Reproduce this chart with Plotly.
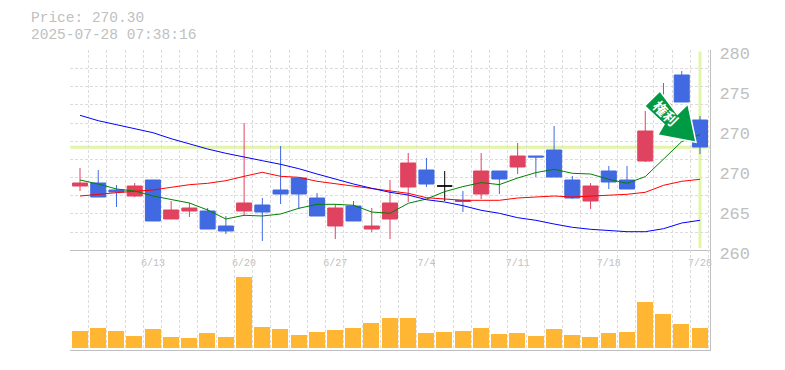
import plotly.graph_objects as go

x_index = list(range(35))
label_index = [4, 9, 14, 19, 24, 29, 34]
date_labels = ["6/13", "6/20", "6/27", "7/4", "7/11", "7/18", "7/28"]

open_ = [266.43,266.73,266.03,265.43,267.03,263.13,263.93,263.93,262.43,263.93,264.53,266.03,267.23,265.23,262.43,264.43,262.13,263.13,
         266.33,268.03,266.43,265.0,265.63,267.93,268.33,269.43,270.03,267.03,264.93,267.93,267.03,268.93,273.3,277.53,273.03]
high = [268.23,268.03,266.53,266.73,267.03,264.93,264.73,264.23,263.43,272.73,265.23,270.43,267.23,265.73,264.63,264.93,264.23,267.03,
        269.73,269.23,267.93,265.93,269.73,267.93,270.73,269.43,272.43,267.43,266.73,268.43,268.43,273.93,276.73,277.93,273.43]
low = [265.93,265.33,264.33,265.33,262.93,263.13,263.33,262.13,261.63,263.43,260.93,264.63,264.13,263.43,261.13,262.93,261.83,261.13,
       264.83,266.33,264.93,263.83,265.13,265.63,267.63,267.33,267.33,265.13,264.13,266.13,266.13,268.83,273.0,274.83,269.63]
close = [266.73,265.33,265.83,266.43,262.93,264.03,264.23,262.13,261.93,264.73,263.83,265.63,265.63,263.43,264.23,262.93,262.43,264.73,
         268.73,266.63,266.43,264.9,267.93,267.13,269.43,269.33,267.33,265.23,266.43,266.83,266.13,271.93,274.63,274.83,270.33]

ma_short = [267.03,266.63,266.13,265.93,265.43,265.1,264.73,264.03,263.13,263.5,263.43,263.63,264.2,264.6,264.6,264.5,263.83,263.7,
            264.7,265.13,265.87,266.37,266.77,266.57,267.23,267.77,268.1,267.7,267.63,267.1,266.7,267.37,269.1,270.87,271.57]
ma_mid = [265.43,265.63,265.76,265.9,266.03,266.3,266.56,266.7,266.96,267.4,267.8,267.4,267.3,266.9,266.66,266.46,266.2,265.96,
          265.7,265.26,265.13,265.0,265.0,265.0,265.23,265.36,265.43,265.33,265.4,265.5,265.6,265.8,266.5,266.9,267.1]
ma_long = [273.5,272.96,272.56,272.16,271.76,271.16,270.63,270.13,269.7,269.3,268.96,268.6,268.16,267.63,267.1,266.63,266.2,265.8,
           265.53,265.06,264.83,264.46,264.0,263.7,263.26,263.0,262.63,262.3,262.1,261.96,261.86,261.86,262.16,262.73,263.0]

volume = [17000,20000,17000,12000,19000,11000,10000,15000,11000,71000,21000,19000,13000,16000,18000,20000,25000,30000,
          30000,15000,16000,17000,20000,14000,15000,12000,19000,13000,11000,15000,16000,46000,34000,24000,20000]

last_price = 270.30
price_ticks = [260, 264, 268, 272, 276, 280]
price_ticktext = ["260", "265", "270", "270", "275", "280"]

UP = "#E0435F"; DOWN = "#4169E1"; HILITE = "#E2F5A9"; GREY = "#C0C0C0"; GRID = "#DCDCDC"; VOL = "#FFB733"
MONO = "Liberation Mono"

doji = [20]
rest = [i for i in x_index if i not in doji]

fig = go.Figure()
for name, ys, col in [("s", ma_short, "#008000"), ("m", ma_mid, "#FF0000"), ("l", ma_long, "#0000FF")]:
    fig.add_trace(go.Scatter(x=x_index, y=ys, mode="lines", line=dict(color=col, width=1), xaxis="x", yaxis="y", showlegend=False))

fig.add_trace(go.Candlestick(
    x=rest, open=[open_[i] for i in rest], high=[high[i] for i in rest], low=[low[i] for i in rest], close=[close[i] for i in rest],
    increasing=dict(line=dict(color=UP, width=1), fillcolor=UP),
    decreasing=dict(line=dict(color=DOWN, width=1), fillcolor=DOWN),
    whiskerwidth=0, xaxis="x", yaxis="y", showlegend=False))
fig.add_trace(go.Candlestick(
    x=doji, open=[open_[20]], high=[high[20]], low=[low[20]], close=[close[20]],
    increasing=dict(line=dict(color="#000000", width=1), fillcolor="#000000"),
    decreasing=dict(line=dict(color="#000000", width=1), fillcolor="#000000"),
    whiskerwidth=0, xaxis="x", yaxis="y", showlegend=False))
fig.add_trace(go.Bar(x=x_index, y=volume, width=0.877, marker=dict(color=VOL, line=dict(width=0)),
                     xaxis="x2", yaxis="y2", showlegend=False))

W, H = 785, 370
L, R, T, M, B = 70.3, 710, 50.3, 250.3, 350
xrange_ = [-0.532, 34.55]
def grid_x():
    return dict(showgrid=True, gridcolor=GRID, gridwidth=1, griddash="3px,2px", tick0=-0.532, dtick=1, ticklen=0)

fig.update_layout(
    width=W, height=H, autosize=False, margin=dict(l=0, r=0, t=0, b=0, pad=0, autoexpand=False),
    paper_bgcolor="white", plot_bgcolor="white", boxgap=0.175, boxgroupgap=0, bargap=0,
    hovermode=False, showlegend=False,
    xaxis=dict(domain=[L/W, R/W], range=xrange_, anchor="y", rangeslider=dict(visible=False),
               tickmode="array", tickvals=label_index, ticktext=date_labels, showgrid=False, zeroline=False,
               ticks="", ticklabelstandoff=3, tickfont=dict(family=MONO, size=10, color=GREY),
               showline=True, linecolor=GREY, linewidth=1, minor=grid_x()),
    xaxis2=dict(domain=[L/W, R/W], range=xrange_, anchor="y2", showticklabels=False, ticks="",
                tickmode="array", tickvals=[], showgrid=False, zeroline=False, showline=True, linecolor=GREY, linewidth=1,
                minor=grid_x()),
    yaxis=dict(domain=[1-M/H, 1-T/H], range=[260, 280], anchor="x", side="right", tickmode="array",
               tickvals=price_ticks, ticktext=price_ticktext, showgrid=False, zeroline=False, ticks="",
               ticklabelshift=3, ticklabelstandoff=5, tickfont=dict(family=MONO, size=17, color=GREY),
               showline=True, linecolor=GREY, linewidth=1,
               minor=dict(showgrid=True, gridcolor=GRID, gridwidth=1, griddash="3px,2px", tick0=260, dtick=20/11, ticklen=0)),
    yaxis2=dict(domain=[1-B/H, 1-M/H], range=[-2000, 97700], anchor="x2", side="right", showticklabels=False, showgrid=False,
                zeroline=False, ticks="", showline=True, linecolor=GREY, linewidth=1),
    shapes=[
        dict(type="line", xref="paper", x0=L/W, x1=R/W, yref="y", y0=last_price, y1=last_price, layer="below",
             line=dict(color=HILITE, width=3)),
        dict(type="line", xref="x", x0=34, x1=34, yref="paper", y0=1-248/H, y1=1-51.5/H, layer="below",
             line=dict(color=HILITE, width=3)),
        dict(type="path", xref="paper", yref="paper", layer="above",
             path="M {} {} L {} {} L {} {} L {} {} L {} {} L {} {} L {} {} Z".format(
                 *[v for p in [(660,91),(644.7,106),(664,124.3),(657.7,135),(696,142.3),(688,104),(677.3,114.3)] for v in (p[0]/W, 1-p[1]/H)]),
             fillcolor="#009944", line=dict(color="white", width=1.5)),
    ],
    annotations=[
        dict(text="Price: 270.30", xref="paper", yref="paper", x=30/W, y=1-18/H, xanchor="left", yanchor="middle",
             showarrow=False, borderpad=0, font=dict(family=MONO, size=14.5, color=GREY)),
        dict(text="2025-07-28 07:38:16", xref="paper", yref="paper", x=30/W, y=1-35/H, xanchor="left", yanchor="middle",
             showarrow=False, borderpad=0, font=dict(family=MONO, size=14.5, color=GREY)),
        dict(text="<b>権利</b>", xref="paper", yref="paper", x=666/W, y=1-113/H, xanchor="center", yanchor="middle",
             showarrow=False, textangle=45, font=dict(family="Noto Sans CJK JP", size=14, color="white")),
    ],
)
fig.write_html("out.html", config=dict(displayModeBar=False), post_script="document.body.style.margin='0';")
